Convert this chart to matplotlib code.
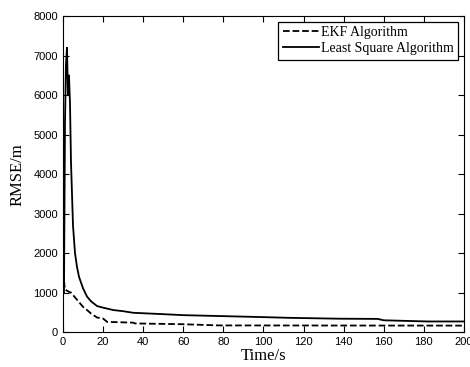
import numpy as np
import matplotlib.pyplot as plt

# time axis samples (s)
t_ls = [0.5, 1, 1.5, 2, 2.5, 3, 3.5, 4, 5, 6, 7, 8, 10, 12, 14, 17, 20, 25,
        30, 35, 50, 60, 80, 100, 113, 138, 157, 160, 182, 200]
rmse_ls = [1000, 5300, 6800, 7200, 6000, 6500, 5800, 4300, 2700, 2000, 1650,
           1400, 1110, 900, 780, 660, 620, 560, 530, 490, 455, 430, 405, 380,
           362, 340, 335, 300, 270, 270]

t_ekf = [0.5, 1, 3, 4, 5, 6, 8, 10, 12, 14, 17, 20, 22, 35, 36, 60, 78, 200]
rmse_ekf = [1300, 1080, 1020, 1000, 940, 880, 760, 640, 560, 470, 370, 345,
            260, 240, 220, 200, 170, 165]

fig = plt.figure(figsize=(4.7, 3.67), dpi=100)
ax = fig.add_axes([0.134, 0.095, 0.853, 0.861])

ax.plot(t_ekf, rmse_ekf, 'k--', lw=1.3, label='EKF Algorithm')
ax.plot(t_ls, rmse_ls, 'k-', lw=1.3, label='Least Square Algorithm')

ax.set_xlim(0, 200)
ax.set_ylim(0, 8000)
ax.set_xticks(np.arange(0, 201, 20))
ax.set_yticks(np.arange(0, 8001, 1000))
ax.tick_params(direction='in', top=True, right=True, length=4, width=0.8,
               labelsize=8)
for lab in ax.get_xticklabels() + ax.get_yticklabels():
    lab.set_family('Liberation Sans')

ax.set_xlabel('Time/s', family='Liberation Serif', fontsize=12, labelpad=1)
ax.set_ylabel('RMSE/m', family='Liberation Serif', fontsize=12, labelpad=6)

leg = ax.legend(loc='upper right', prop={'family': 'Liberation Serif', 'size': 10},
                handlelength=2.6, handletextpad=0.2, borderaxespad=0.4,
                fancybox=False, framealpha=1, edgecolor='black',
                borderpad=0.3, labelspacing=0.25)
leg.get_frame().set_linewidth(0.9)

fig.savefig('out.png', dpi=100)
